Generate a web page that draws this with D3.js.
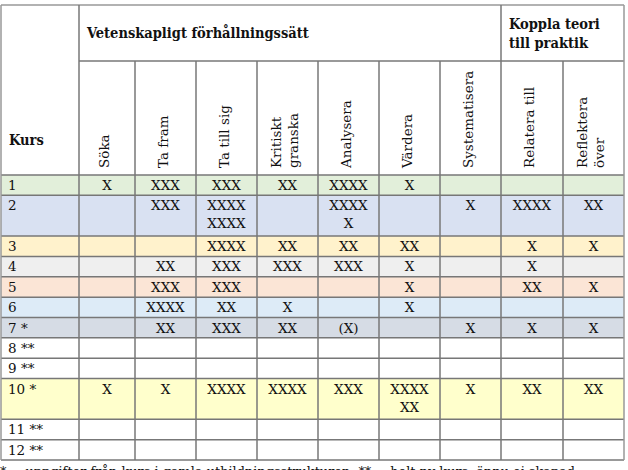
<!DOCTYPE html>
<html><head><meta charset="utf-8">
<script src="https://cdn.jsdelivr.net/npm/d3@7/dist/d3.min.js"></script>
<style>body{margin:0;background:#fff}svg{display:block}</style>
</head><body>
<script>
// ---- data ----
const groups = ["Vetenskapligt förhållningssätt", "Koppla teori\ntill praktik"];
const groupSpans = [7, 2];
const columns = ["Söka", "Ta fram", "Ta till sig", "Kritiskt\ngranska", "Analysera", "Värdera", "Systematisera", "Relatera till", "Reflektera\növer"];
const courses = ["1", "2", "3", "4", "5", "6", "7 *", "8 **", "9 **", "10 *", "11 **", "12 **"];
const values = [
  ["X", "XXX", "XXX", "XX", "XXXX", "X", "", "", ""],
  ["", "XXX", "XXXX\nXXXX", "", "XXXX\nX", "", "X", "XXXX", "XX"],
  ["", "", "XXXX", "XX", "XX", "XX", "", "X", "X"],
  ["", "XX", "XXX", "XXX", "XXX", "X", "", "X", ""],
  ["", "XXX", "XXX", "", "", "X", "", "XX", "X"],
  ["", "XXXX", "XX", "X", "", "X", "", "", ""],
  ["", "XX", "XXX", "XX", "(X)", "", "X", "X", "X"],
  ["", "", "", "", "", "", "", "", ""],
  ["", "", "", "", "", "", "", "", ""],
  ["X", "X", "XXXX", "XXXX", "XXX", "XXXX\nXX", "X", "XX", "XX"],
  ["", "", "", "", "", "", "", "", ""],
  ["", "", "", "", "", "", "", "", ""]
];
const rowColors = ["#e2efda", "#d9e1f2", "#fff2cc", "#efefef", "#fbe5d6", "#ddebf7", "#d6dce5", "#ffffff", "#ffffff", "#ffffcc", "#ffffff", "#ffffff"];
const headLabel = "Kurs";
const footnote = "* = uppgifter från kurs i gamla utbildningsstrukturen, ** = helt ny kurs, ännu ej skapad";

// ---- layout ----
const W = 628, H = 470;
const colEdges = [1, 79, 135, 196, 257, 318, 379, 440, 501, 563, 624];
const yTop = 5, yHead1 = 61, yHead2 = 175, yBottom = 460;
const font = "'DejaVu Serif', 'Liberation Serif', serif";
const headFont = "'DejaVu Serif Condensed', 'DejaVu Serif', serif";
const fs = 13.5;

const svg = d3.select("body").append("svg").attr("width", W).attr("height", H)
  .style("font-family", font);

const lineCounts = values.map(r => d3.max(r, v => v ? v.split("\n").length : 1));
const cum = [0]; lineCounts.forEach(c => cum.push(cum[cum.length - 1] + c));
const yScale = d3.scaleLinear().domain([0, cum[cum.length - 1]]).range([yHead2, yBottom]);

svg.append("g").selectAll("rect").data(courses).join("rect")
  .attr("x", colEdges[0]).attr("width", colEdges[colEdges.length - 1] - colEdges[0])
  .attr("y", (d, i) => yScale(cum[i])).attr("height", (d, i) => yScale(cum[i + 1]) - yScale(cum[i]))
  .attr("fill", (d, i) => rowColors[i]);

const g = svg.append("g").attr("stroke", "#777").attr("stroke-width", 1.5);
cum.forEach(c => g.append("line").attr("x1", colEdges[0]).attr("x2", colEdges[10]).attr("y1", yScale(c)).attr("y2", yScale(c)));
g.append("line").attr("x1", colEdges[1]).attr("x2", colEdges[10]).attr("y1", yHead1).attr("y2", yHead1);
g.append("line").attr("x1", colEdges[0]).attr("x2", colEdges[10]).attr("y1", yTop).attr("y2", yTop).attr("stroke", "#999");
colEdges.forEach((x, i) => {
  let y1 = yTop;
  if (i > 1 && i < 10 && i !== 8) y1 = yHead1;
  g.append("line").attr("x1", x).attr("x2", x).attr("y1", y1).attr("y2", yBottom)
    .attr("stroke", (i === 0 || i === 10) ? "#999" : "#777");
});

let ci = 1;
groups.forEach((gname, gi) => {
  const x0 = colEdges[ci];
  const t = svg.append("text").attr("font-family", headFont).attr("font-weight", "bold")
    .attr("font-size", 14.5).attr("fill", "#111");
  const lines = gname.split("\n");
  lines.forEach((ln, li) => {
    t.append("tspan").attr("x", x0 + 8).attr("y", lines.length === 1 ? 38 : 29 + li * 19).text(ln);
  });
  ci += groupSpans[gi];
});

svg.append("text").attr("x", 9).attr("y", 145).attr("font-family", headFont).attr("font-weight", "bold")
  .attr("font-size", 14.5).attr("fill", "#111").text(headLabel);

columns.forEach((c, i) => {
  const x0 = colEdges[i + 1], x1 = colEdges[i + 2];
  const cx = (x0 + x1) / 2;
  const lines = c.split("\n");
  const lh = 17;
  lines.forEach((ln, li) => {
    const bx = cx + 2 - (lines.length - 1) * lh / 2 + li * lh;
    svg.append("text").attr("transform", `translate(${bx},168) rotate(-90)`)
      .attr("font-size", fs).attr("fill", "#111").text(ln);
  });
});

courses.forEach((c, r) => {
  const y0 = yScale(cum[r]);
  svg.append("text").attr("x", colEdges[0] + 7).attr("y", y0 + 15).attr("font-size", fs)
    .attr("fill", "#111").text(c);
  values[r].forEach((v, k) => {
    if (!v) return;
    const cx = (colEdges[k + 1] + colEdges[k + 2]) / 2;
    v.split("\n").forEach((ln, li) => {
      svg.append("text").attr("x", cx).attr("y", y0 + 15 + li * 18).attr("text-anchor", "middle")
        .attr("font-size", fs).attr("fill", "#111").text(ln);
    });
  });
});

svg.append("text").attr("x", 0).attr("y", 476).attr("font-size", 12.9).attr("fill", "#111").text(footnote);
</script>
</body></html>
